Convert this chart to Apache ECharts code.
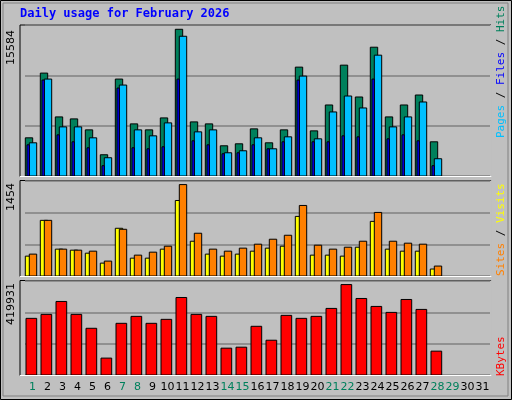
<!DOCTYPE html><html><head><meta charset="utf-8"><script src="https://cdn.jsdelivr.net/npm/echarts@6/dist/echarts.min.js"></script>
<style>html,body{margin:0;padding:0;background:#c0c0c0}#c{width:512px;height:400px}</style></head><body><div id="c"></div><script>
const days = Array.from({length:31},(_,i)=>String(i+1));
const weekendDays = [1,7,8,14,15,21,22,28,29];
const hits  = [4055,10930,6276,6065,4901,2257,10296,5536,4901,6170,15584,5747,5536,3209,3420,5007,3526,4901,11565,4795,7545,11776,8392,13680,6276,7545,8603,3632];
const files = [3526,10296,5218,5218,4055,1939,9661,4901,4266,5642,14844,4690,4901,2468,2680,4055,2891,4161,10613,3949,6805,8498,7228,12835,5218,6276,7863,1834];
const pages = [3314,10190,4372,3632,2997,1093,9344,2997,2891,3103,10296,3738,3314,2362,2468,3314,2891,3632,10190,3632,3632,4266,4161,10296,3949,4372,3738,1093];
const visits= [316,885,427,411,363,205,759,284,284,427,1201,553,348,316,348,395,443,474,948,332,332,316,458,869,427,395,395,111];
const sites = [348,885,427,411,395,237,743,332,379,474,1454,680,427,395,443,506,585,648,1122,490,427,458,553,1011,553,522,506,158];
const kbytes= [263032,281490,341480,281490,216886,78448,239960,272260,239960,258420,359940,281490,272260,124595,129210,226117,161510,276880,263032,272260,309180,419931,355325,318410,290720,350710,304565,110750];
const maxLabels = ['15584','1454','419931'];

const grids=[{top:25,h:151},{top:181,h:95},{top:281,h:94}];
const axMax=[16040,1511,436500];
function bars(g,data,color,x0,x1,z){
  return {type:'custom',xAxisIndex:g,yAxisIndex:g,z:z,data:data.map((v,i)=>[i,v]),
    renderItem:(p,api)=>{const top=api.coord([api.value(0),api.value(1)]);const base=api.coord([api.value(0),0]);
      return {type:'rect',shape:{x:top[0]+x0,y:top[1],width:x1-x0,height:base[1]-top[1]},style:{fill:color,stroke:'#000',lineWidth:1}};}};
}
const chart=echarts.init(document.getElementById('c'));
const xAxes=grids.map((g,i)=>({type:'category',gridIndex:i,data:days,boundaryGap:true,axisLine:{show:false},axisTick:{show:false},
  axisLabel:{show:i===2,margin:7,fontFamily:'DejaVu Sans',fontSize:11,color:(v)=>weekendDays.includes(+v)?'#00805c':'#000',interval:0}}));
const yAxes=grids.map((g,i)=>({type:'value',gridIndex:i,min:0,max:axMax[i],interval:axMax[i]/3,axisLabel:{show:false},axisLine:{show:false},axisTick:{show:false},
  splitLine:{lineStyle:{color:'#808080',width:1.5}}}));
const graphic=[
 {type:'rect',shape:{x:0.5,y:0.5,width:511,height:399},style:{fill:'#c0c0c0',stroke:'#000',lineWidth:1},z:-10},
 {type:'rect',shape:{x:3,y:3,width:505,height:393},style:{fill:null,stroke:'#808080',lineWidth:1},z:-10},
 {type:'text',left:20,top:8,style:{text:'Daily usage for February 2026',fill:'#0000ff',font:'bold 12px "DejaVu Sans Mono"'}},
];
const frames=[[25,176.5],[180.5,276.5],[280.5,375.5]];
frames.forEach((f,i)=>{
 graphic.push({type:'rect',shape:{x:20,y:f[0],width:471,height:f[1]-f[0]},style:{fill:null,stroke:'#000',lineWidth:1},z:-1});
 graphic.push({type:'polyline',shape:{points:[[20,f[1]],[491,f[1]],[491,f[0]]]},style:{stroke:'#fff',lineWidth:1.2,fill:null},z:5});
 graphic.push({type:'text',x:6,y:[30,183,283][i],rotation:Math.PI/2,style:{text:maxLabels[i],fill:'#000',font:'11px "DejaVu Sans"',align:'right',verticalAlign:'top'}});
});
function sideLabel(y,parts){
 graphic.push({type:'text',x:496,y:y,rotation:Math.PI/2,style:{text:parts.map(p=>'{'+p[1]+'|'+p[0]+'}').join(''),
  rich:Object.fromEntries(parts.map(p=>[p[1],{fill:p[2],font:'11px "DejaVu Sans Mono"'}])),align:'left',verticalAlign:'top'}});
}
sideLabel(138,[['Pages','a','#00c0ff'],[' / ','s','#000'],['Files','b','#0000ff'],[' / ','t','#000'],['Hits','c','#00805c']]);
sideLabel(276,[['Sites','a','#ff8000'],[' / ','s','#000'],['Visits','b','#ffff00']]);
sideLabel(376,[['KBytes','a','#ff0000']]);
chart.setOption({animation:false,backgroundColor:'transparent',
 grid:grids.map(g=>({left:25,width:465,top:g.top,height:g.h})),
 xAxis:xAxes,yAxis:yAxes,graphic:graphic,
 series:[bars(0,hits,'#00805c',-7.2,0.2,2),bars(0,files,'#00c0ff',-3.2,4.2,3),bars(0,pages,'#0000ff',-5.5,-3.2,4),
  bars(1,visits,'#ffff00',-7.2,0.2,2),bars(1,sites,'#ff8000',-3.2,4.2,3),
  bars(2,kbytes,'#ff0000',-6.5,4.2,2)]});
</script></body></html>
